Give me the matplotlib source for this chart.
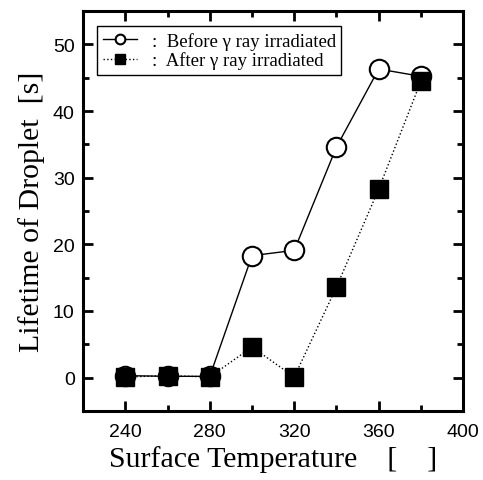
import matplotlib
matplotlib.use("Agg")
import matplotlib.pyplot as plt

temperature = [240, 260, 280, 300, 320, 340, 360, 380]
before_irradiated = [0.3, 0.2, 0.2, 18.3, 19.1, 34.6, 46.3, 45.2]
after_irradiated = [0.1, 0.3, 0.1, 4.6, 0.1, 13.6, 28.3, 44.5]

x_ticks = [240, 280, 320, 360, 400]
y_ticks = [0, 10, 20, 30, 40, 50]

SERIF = ["Liberation Serif", "DejaVu Serif"]

fig = plt.figure(figsize=(4.83, 4.81), dpi=100)
ax = fig.add_axes([0.172, 0.1435, 0.787, 0.8315])

ax.plot(temperature, before_irradiated, "-", color="black", linewidth=1.0,
        marker="o", markersize=14, markerfacecolor="white", markeredgecolor="black",
        markeredgewidth=1.5, label=":  Before \u03b3 ray irradiated", zorder=2)
ax.plot(temperature, after_irradiated, ":", color="black", linewidth=1.0,
        marker="s", markersize=13, markerfacecolor="black", markeredgecolor="black",
        label=":  After \u03b3 ray irradiated", zorder=3)

ax.set_xlim(220, 400)
ax.set_ylim(-5, 55)
ax.set_xticks(x_ticks)
ax.set_xticks(range(220, 401, 20), minor=True)
ax.set_yticks(y_ticks)
ax.set_yticks(range(-5, 56, 5), minor=True)

ax.tick_params(which="both", direction="in", top=True, right=True, width=2)
ax.tick_params(which="major", length=7, labelsize=14)
ax.tick_params(which="minor", length=4)
ax.tick_params(axis="x", which="major", pad=9)
ax.tick_params(axis="y", which="major", pad=6)
for lbl in ax.get_xticklabels() + ax.get_yticklabels():
    lbl.set_fontfamily("Liberation Sans")
for sp in ax.spines.values():
    sp.set_linewidth(2.2)

ax.set_xlabel("Surface Temperature    [    ]", fontsize=21.5, family=SERIF, labelpad=3)
ax.set_ylabel("Lifetime of Droplet  [s]", fontsize=21.5, family=SERIF, labelpad=6)

leg = ax.legend(loc="upper left", bbox_to_anchor=(0.037, 0.962), borderaxespad=0,
                prop={"family": SERIF, "size": 13.5},
                markerscale=0.5, handlelength=1.8, handletextpad=0.8, borderpad=0.3,
                labelspacing=0.1, fancybox=False, edgecolor="black", framealpha=1)
leg.get_frame().set_linewidth(1.0)

fig.savefig("out.png", dpi=100)
